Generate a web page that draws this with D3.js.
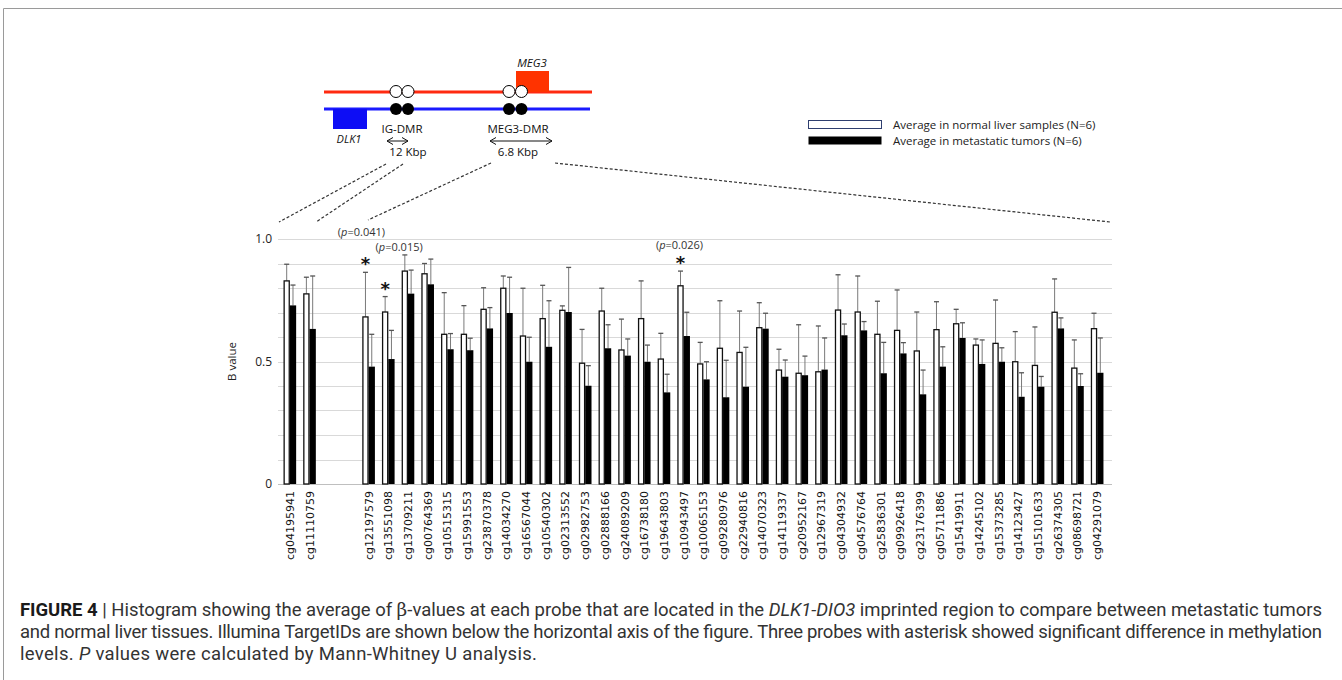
<!DOCTYPE html>
<html>
<head>
<meta charset="utf-8">
<script src="https://cdn.jsdelivr.net/npm/d3@7"></script>
<style>
  body { margin: 0; background: #fff; }
  svg { display: block; }
</style>
</head>
<body>
<div id="chart"></div>
<script>
// probes in the DLK1-DIO3 region (Illumina TargetIDs)
const probes = [
  "cg04195941", "cg11110759",
  "cg12197579", "cg13551098", "cg13709211", "cg00764369", "cg10515315", "cg15991553",
  "cg23870378", "cg14034270", "cg16567044", "cg10540302", "cg02313552", "cg02982753",
  "cg02888166", "cg24089209", "cg16738180", "cg19643803", "cg10943497", "cg10065153",
  "cg09280976", "cg22940816", "cg14070323", "cg14119337", "cg20952167", "cg12967319",
  "cg04304932", "cg04576764", "cg25836301", "cg09926418", "cg23176399", "cg05711886",
  "cg15419911", "cg14245102", "cg15373285", "cg14123427", "cg15101633", "cg26374305",
  "cg08698721", "cg04291079"
];
// two empty slots after the first two probes (IG-DMR)
const gapAfter = 2;
const gapSlots = 2;

const normalMean = [0.829, 0.776, 0.682, 0.702, 0.869, 0.858, 0.611, 0.611, 0.713, 0.799,
  0.604, 0.675, 0.709, 0.493, 0.706, 0.547, 0.675, 0.510, 0.809, 0.490,
  0.554, 0.537, 0.638, 0.465, 0.452, 0.458, 0.710, 0.702, 0.611, 0.627,
  0.543, 0.630, 0.654, 0.567, 0.574, 0.499, 0.484, 0.701, 0.473, 0.634];
const normalSD = [0.068, 0.068, 0.182, 0.063, 0.066, 0.042, 0.170, 0.117, 0.088, 0.050,
  0.195, 0.136, 0.018, 0.138, 0.093, 0.126, 0.154, 0.105, 0.060, 0.088,
  0.194, 0.169, 0.102, 0.085, 0.198, 0.187, 0.144, 0.147, 0.135, 0.165,
  0.159, 0.114, 0.059, 0.025, 0.177, 0.123, 0.157, 0.136, 0.115, 0.063];
const tumorMean = [0.729, 0.633, 0.479, 0.510, 0.777, 0.815, 0.550, 0.546, 0.635, 0.698,
  0.499, 0.560, 0.702, 0.401, 0.554, 0.524, 0.499, 0.374, 0.604, 0.427,
  0.354, 0.397, 0.634, 0.438, 0.444, 0.467, 0.607, 0.627, 0.452, 0.533,
  0.366, 0.479, 0.596, 0.490, 0.499, 0.356, 0.397, 0.635, 0.400, 0.454];
const tumorSD = [0.083, 0.216, 0.132, 0.117, 0.096, 0.103, 0.064, 0.049, 0.085, 0.146,
  0.100, 0.188, 0.182, 0.082, 0.096, 0.068, 0.068, 0.074, 0.097, 0.072,
  0.151, 0.161, 0.063, 0.068, 0.078, 0.129, 0.046, 0.036, 0.126, 0.044,
  0.099, 0.081, 0.062, 0.098, 0.057, 0.098, 0.042, 0.043, 0.050, 0.142];

// significant probes (Mann-Whitney U)
const sigProbes = ["cg12197579", "cg13551098", "cg10943497"];
const pValues = ["0.041", "0.015", "0.026"];
const pLabelLevel = [1.03, 0.965, 0.975];   // where the p label sits on the y scale
const pLabelShift = [-4, 14, -1];

const yTicks = [0, 0.5, 1.0];
const yTickLabels = ["0", "0.5", "1.0"];
const gridValues = d3.range(1, 11).map(i => i / 10);

const legendLabels = ["Average in normal liver samples (N=6)", "Average in metastatic tumors (N=6)"];

const captionLines = [
  [["FIGURE 4", "b"], [" | Histogram showing the average of ", ""], ["β", "s"], ["-values at each probe that are located in the ", ""], ["DLK1-DIO3", "i"], [" imprinted region to compare between metastatic tumors", ""]],
  [["and normal liver tissues. Illumina TargetIDs are shown below the horizontal axis of the figure. Three probes with asterisk showed significant difference in methylation", ""]],
  [["levels. ", ""], ["P", "i"], [" values were calculated by Mann-Whitney U analysis.", ""]]
];
const captionWidths = [1302, 1302, 517];

document.addEventListener("DOMContentLoaded", draw);

function draw() {
    const width = 1342;
    const height = 680;

    const svg = d3.select("#chart").append("svg")
        .attr("width", width)
        .attr("height", height);

    // figure frame (top and left edges)
    svg.append("path")
        .attr("d", "M3.5,680V8.5H1342")
        .attr("fill", "none")
        .attr("stroke", "#9a9a9a")
        .attr("stroke-width", 1);

    drawDiagram(svg);
    drawBars(svg);
    drawCaption(svg);
}

function drawBars(svg) {
    // slot list with the empty gap
    const slots = [];
    probes.forEach((p, i) => {
        if (i === gapAfter) {
            for (let g = 0; g < gapSlots; g++) slots.push("gap" + g);
        }
        slots.push(p);
    });

    const x = d3.scaleBand().domain(slots).range([280, 1107]).padding(0);
    const y = d3.scaleLinear().domain([0, 1]).range([484, 239]);

    const data = probes.map((p, i) => ({
        probe: p,
        normal: normalMean[i], normalSD: normalSD[i],
        tumor: tumorMean[i], tumorSD: tumorSD[i]
    }));

    const grid = svg.append("g");
    grid.selectAll("line")
        .data(gridValues)
        .enter()
        .append("line")
        .attr("x1", 278).attr("x2", 1112)
        .attr("y1", d => Math.round(y(d)) + 0.5)
        .attr("y2", d => Math.round(y(d)) + 0.5)
        .attr("stroke", "#d9d9d9")
        .attr("stroke-width", 1.2);

    // baseline
    svg.append("line")
        .attr("x1", 278).attr("x2", 1112)
        .attr("y1", y(0) + 0.5).attr("y2", y(0) + 0.5)
        .attr("stroke", "#bfbfbf")
        .attr("stroke-width", 1.2);

    svg.append("g")
        .selectAll("text")
        .data(yTicks)
        .enter()
        .append("text")
        .attr("x", 272)
        .attr("y", d => y(d))
        .attr("dy", "0.35em")
        .attr("text-anchor", "end")
        .style("font", "12px 'Open Sans', sans-serif")
        .style("fill", "#222")
        .text((d, i) => yTickLabels[i]);

    svg.append("text")
        .attr("transform", `translate(236,${y(0.5)}) rotate(-90)`)
        .attr("text-anchor", "middle")
        .style("font", "11.5px 'Open Sans', sans-serif")
        .style("fill", "#222")
        .text("B value");

    const bw = 6.3;
    const groups = svg.append("g")
        .selectAll("g")
        .data(data)
        .enter()
        .append("g")
        .attr("transform", d => `translate(${x(d.probe) + x.bandwidth() / 2},0)`);

    // error bars (upper only)
    const errBar = (sel, cx, top, mean) => {
        sel.append("line")
            .attr("x1", cx).attr("x2", cx)
            .attr("y1", d => y(mean(d)))
            .attr("y2", d => y(top(d)))
            .attr("stroke", "#7a7a7a")
            .attr("stroke-width", 1);
        sel.append("line")
            .attr("x1", cx - 2.5).attr("x2", cx + 2.5)
            .attr("y1", d => y(top(d)))
            .attr("y2", d => y(top(d)))
            .attr("stroke", "#555")
            .attr("stroke-width", 1.3);
    };
    errBar(groups, -bw / 2, d => d.normal + d.normalSD, d => d.normal);
    errBar(groups, bw / 2, d => d.tumor + d.tumorSD, d => d.tumor);

    groups.append("rect")
        .attr("x", -bw + 0.6)
        .attr("width", bw - 1.2)
        .attr("y", d => y(d.normal))
        .attr("height", d => y(0) - y(d.normal))
        .attr("fill", "#fff")
        .attr("stroke", "#111")
        .attr("stroke-width", 1.3);

    groups.append("rect")
        .attr("x", 0)
        .attr("width", bw)
        .attr("y", d => y(d.tumor))
        .attr("height", d => y(0) - y(d.tumor))
        .attr("fill", "#000");

    // probe labels
    svg.append("g")
        .selectAll("text")
        .data(probes)
        .enter()
        .append("text")
        .attr("transform", d => `translate(${x(d) + x.bandwidth() / 2},491) rotate(-90)`)
        .attr("dy", "0.36em")
        .attr("text-anchor", "end")
        .style("font", "11px 'DejaVu Sans', sans-serif")
        .style("fill", "#111")
        .text(d => d);

    // asterisks and p values
    sigProbes.forEach((p, k) => {
        const i = probes.indexOf(p);
        const cx = x(p) + x.bandwidth() / 2 - bw / 2;
        svg.append("text")
            .attr("x", cx)
            .attr("y", y(normalMean[i] + normalSD[i]) - 2)
            .attr("text-anchor", "middle")
            .style("font", "bold 18px 'DejaVu Sans', sans-serif")
            .style("fill", "#111")
            .text("*");
        const t = svg.append("text")
            .attr("x", cx + pLabelShift[k])
            .attr("y", y(pLabelLevel[k]))
            .attr("dy", "0.35em")
            .attr("text-anchor", "middle")
            .style("font", "11px 'Open Sans', sans-serif")
            .style("fill", "#333");
        t.append("tspan").text("(");
        t.append("tspan").style("font-style", "italic").text("p");
        t.append("tspan").text("=" + pValues[k] + ")");
    });

    // legend
    const legend = svg.append("g");
    legendLabels.forEach((label, i) => {
        const ly = 125 + i * 16;
        legend.append("rect")
            .attr("x", 808.5).attr("y", ly - 4.5)
            .attr("width", 73).attr("height", 8)
            .attr("fill", i === 0 ? "#fff" : "#000")
            .attr("stroke", i === 0 ? "#2f3f6f" : "none")
            .attr("stroke-width", 1);
        legend.append("text")
            .attr("x", 893).attr("y", ly)
            .attr("dy", "0.35em")
            .style("font", "11.5px 'Open Sans', sans-serif")
            .style("fill", "#222")
            .text(label);
    });

    // dashed connectors from the diagram to the chart
    const connectors = [
        [[386, 164], [279, 222]],
        [[403, 164], [316, 222]],
        [[491, 163], [368, 220]],
        [[555, 163], [1110, 222]]
    ];
    svg.append("g")
        .selectAll("line")
        .data(connectors)
        .enter()
        .append("line")
        .attr("x1", d => d[0][0]).attr("y1", d => d[0][1])
        .attr("x2", d => d[1][0]).attr("y2", d => d[1][1])
        .attr("stroke", "#333")
        .attr("stroke-width", 1.2)
        .attr("stroke-dasharray", "3,2");
}

function drawDiagram(svg) {
    const g = svg.append("g");
    const font = "'Open Sans', sans-serif";

    // maternal (red) and paternal (blue) strands
    g.append("line").attr("x1", 324).attr("x2", 592).attr("y1", 92).attr("y2", 92)
        .attr("stroke", "#ff2a10").attr("stroke-width", 3);
    g.append("line").attr("x1", 324).attr("x2", 590).attr("y1", 109).attr("y2", 109)
        .attr("stroke", "#1a1aff").attr("stroke-width", 3);

    g.append("rect").attr("x", 333).attr("y", 109).attr("width", 34).attr("height", 20)
        .attr("fill", "#0d0df5");
    g.append("rect").attr("x", 516).attr("y", 71).attr("width", 33).attr("height", 21)
        .attr("fill", "#ff3300");

    const dmrs = [396, 408, 509, 521.5];
    dmrs.forEach(cx => {
        g.append("circle").attr("cx", cx).attr("cy", 91.5).attr("r", 6)
            .attr("fill", "#fff").attr("stroke", "#000").attr("stroke-width", 1);
        g.append("circle").attr("cx", cx).attr("cy", 109).attr("r", 6)
            .attr("fill", "#000");
    });

    const label = (txt, tx, ty, italic, size) => g.append("text")
        .attr("x", tx).attr("y", ty).attr("dy", "0.35em")
        .attr("text-anchor", "middle")
        .style("font", `${italic ? "italic " : ""}${size}px ${font}`)
        .style("fill", "#111")
        .text(txt);
    label("MEG3", 532, 63, true, 11.5);
    label("DLK1", 349, 139, true, 11);
    label("IG-DMR", 402, 129, false, 11.5);
    label("MEG3-DMR", 518, 129, false, 11.5);
    label("12 Kbp", 408, 152, false, 11.5);
    label("6.8 Kbp", 518, 152, false, 11.5);

    // double-headed arrows
    const arrow = (x1, x2, ay) => {
        g.append("line").attr("x1", x1).attr("x2", x2).attr("y1", ay).attr("y2", ay)
            .attr("stroke", "#111").attr("stroke-width", 1);
        g.append("path")
            .attr("d", `M${x1 + 6},${ay - 3.5}L${x1},${ay}L${x1 + 6},${ay + 3.5}M${x2 - 6},${ay - 3.5}L${x2},${ay}L${x2 - 6},${ay + 3.5}`)
            .attr("fill", "none").attr("stroke", "#111").attr("stroke-width", 1);
    };
    arrow(387, 408, 141);
    arrow(490, 552, 141);
}

function drawCaption(svg) {
    const lineY = [616, 638, 660];
    captionLines.forEach((parts, li) => {
        const t = svg.append("text")
            .attr("x", 20)
            .attr("y", lineY[li])
            .attr("textLength", captionWidths[li])
            .attr("lengthAdjust", "spacing")
            .style("font", "18.5px Roboto, sans-serif")
            .style("fill", "#333");
        parts.forEach(([s, kind]) => {
            const sp = t.append("tspan").text(s);
            if (kind === "b") sp.style("font-weight", "bold").style("fill", "#1a1a1a");
            if (kind === "i") sp.style("font-style", "italic");
            if (kind === "s") sp.style("font-family", "'DejaVu Serif', serif");
        });
    });
}
</script>
</body>
</html>
